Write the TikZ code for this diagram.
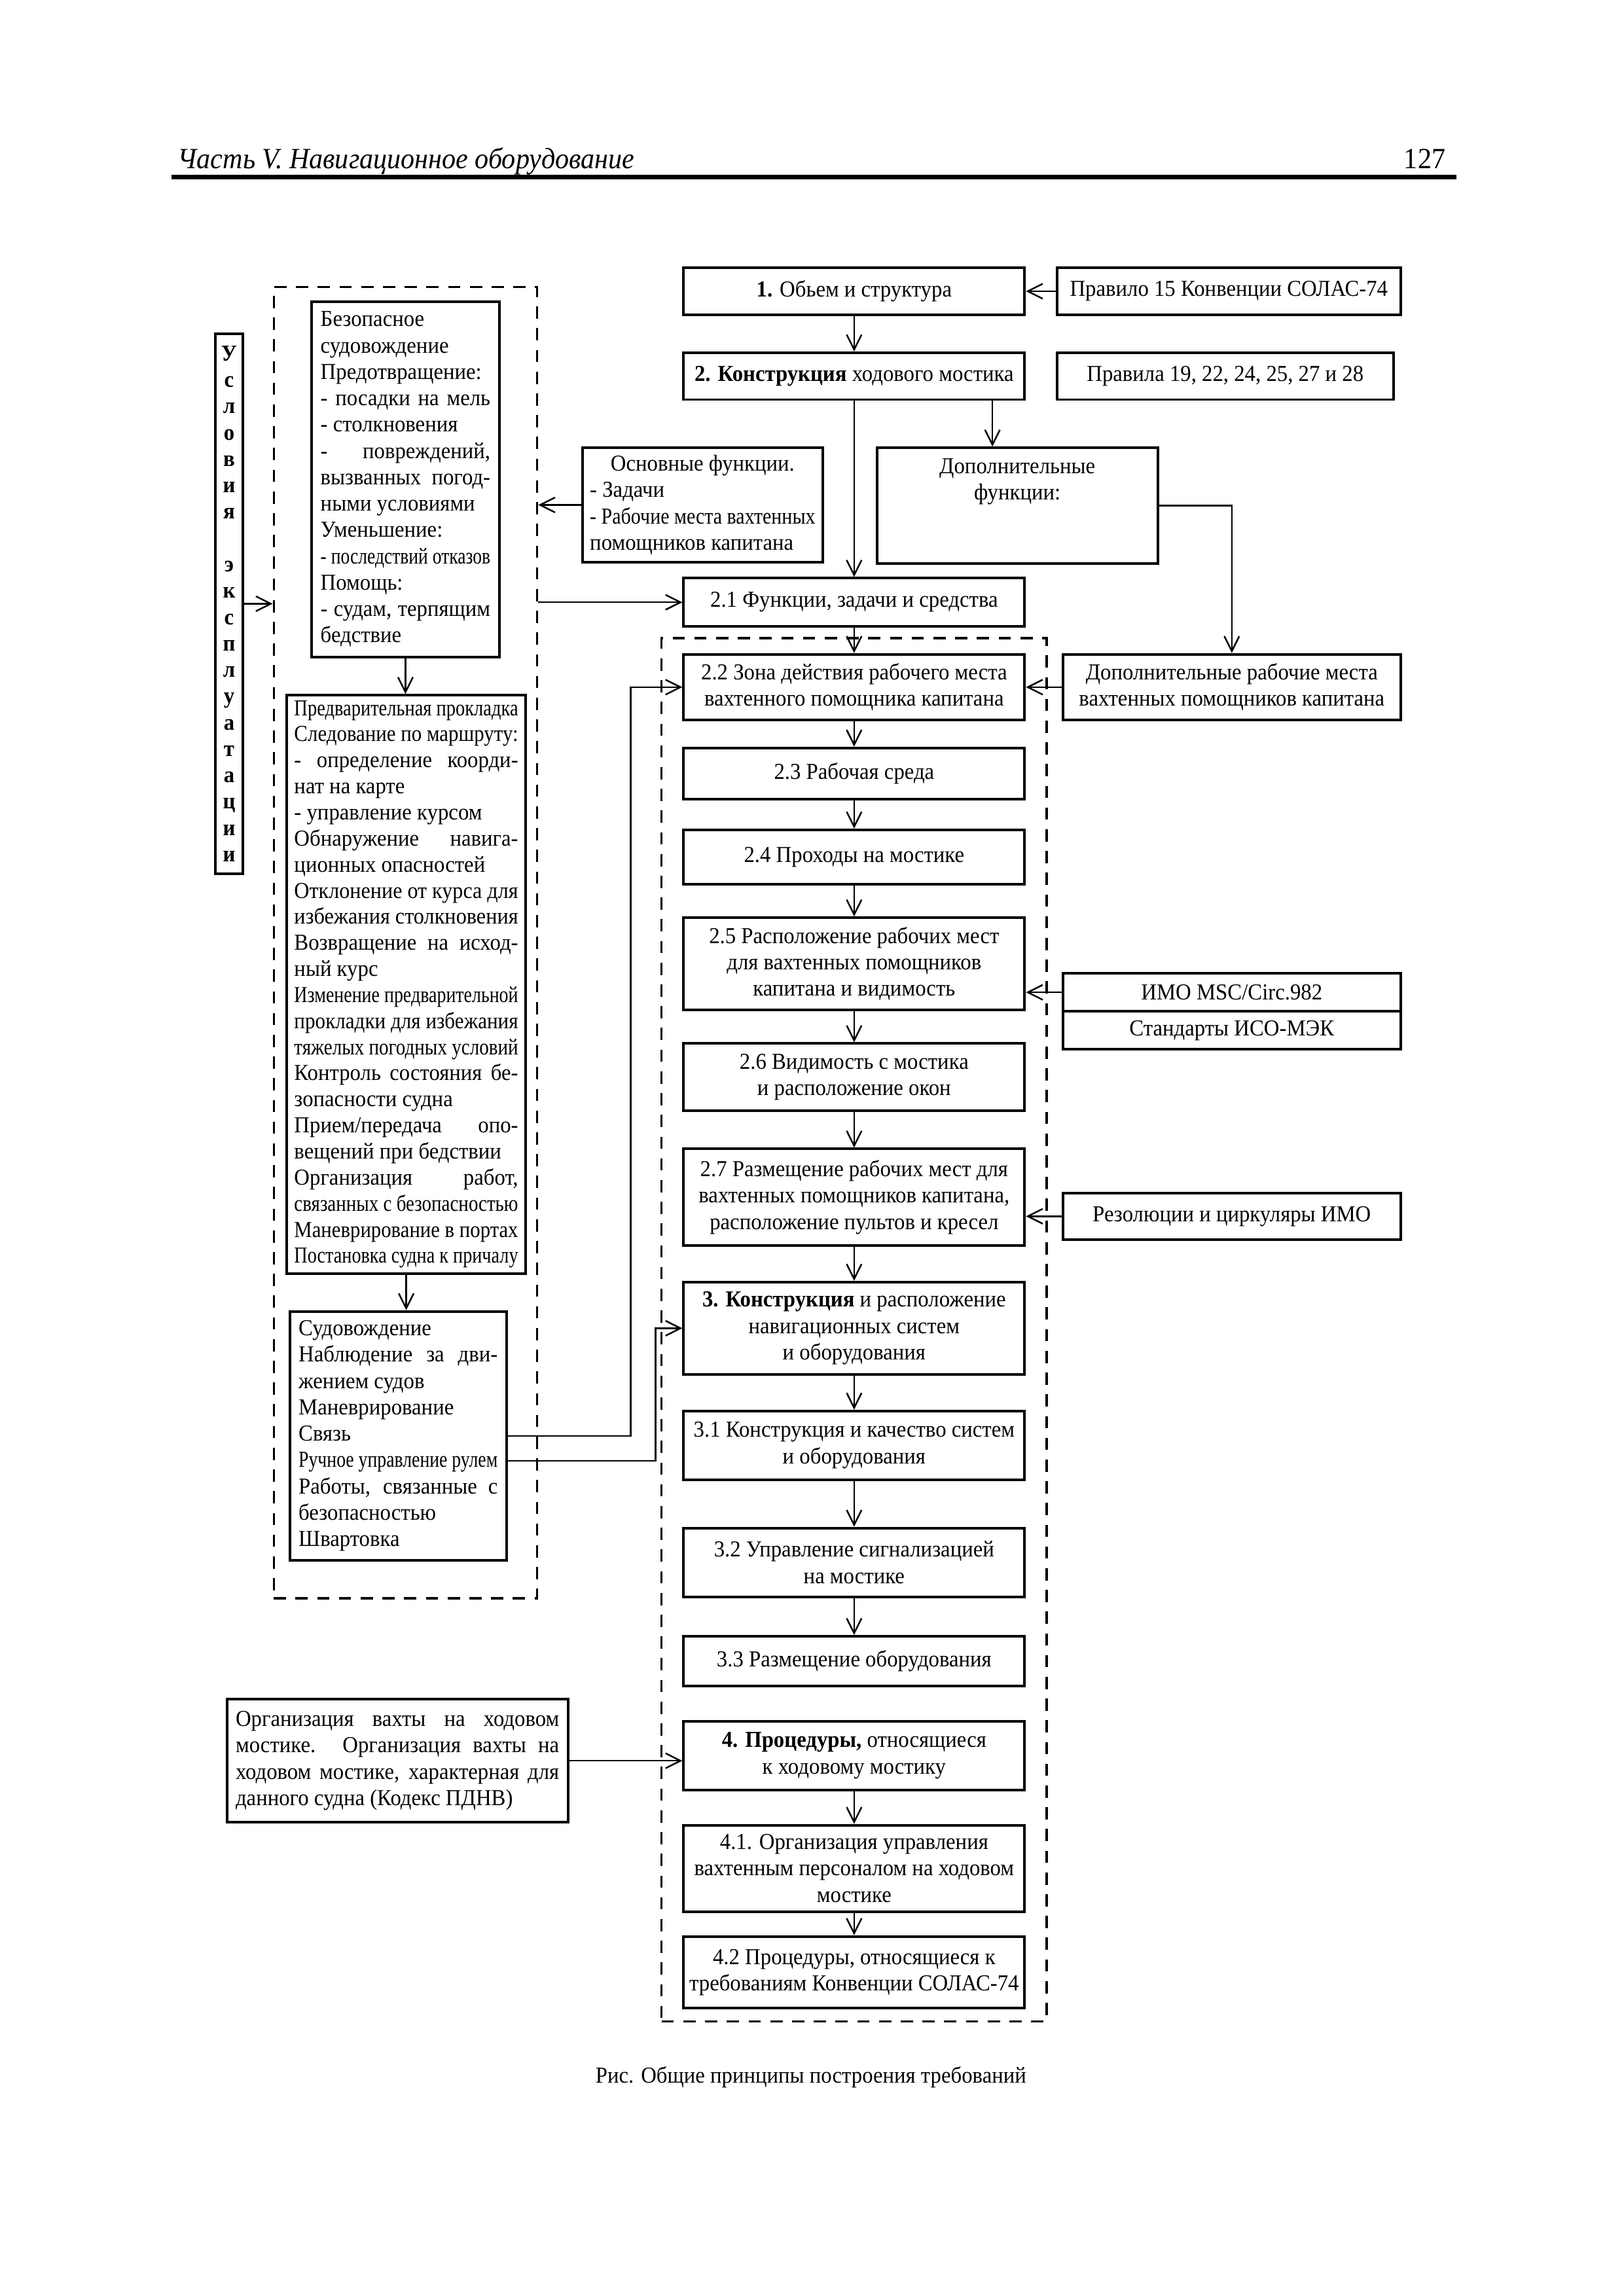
\documentclass[tikz,border=0pt]{standalone}
\usepackage{fontspec}
\setmainfont[FakeStretch=0.94]{Liberation Serif}
\usepackage{graphicx}
\usetikzlibrary{arrows.meta,calc}
\setlength\parindent{0pt}
\newlength\pxu \setlength\pxu{0.189366mm}
\newsavebox\fitbx
\newcommand\fitln[2]{{\spaceskip=0pt\xspaceskip=0pt\sbox\fitbx{#2}\ifdim\wd\fitbx>\hsize\resizebox{\hsize}{\height}{#2}\else\makebox[\hsize][#1]{#2}\fi}}
\newcommand\J[1]{\fitln{s}{#1}}
\newcommand\Lf[1]{\fitln{l}{#1}}
\newcommand\Cn[1]{\fitln{c}{#1}}
\begin{document}
\begin{tikzpicture}[x=0.189366mm,y=-0.189366mm,
  every node/.style={font=\fontsize{8.4}{9.7}\selectfont},
  bb/.style args={#1/#2/#3/#4}{minimum width={(#3-#1)*0.189366mm}, minimum height={(#4-#2)*0.189366mm}, at={({(#1+#3)/2},{(#2+#4)/2})}},
  bx/.style={draw, line width=0.95pt, inner sep=0pt, align=center},
  dz/.style={draw, line width=0.8pt, dash pattern=on 4.5pt off 3.5pt, inner sep=0pt},
  arr/.style={line width=0.6pt, -{Straight Barb[length=5.5pt,width=5.5pt]}}]
\useasboundingbox (0,0) rectangle (1109,1568.7);
% header
\node[anchor=base west, font=\fontsize{10.8}{12}\selectfont\itshape] (hdr) at (115,115) {Часть V. Навигационное оборудование};
\node[anchor=base east, font=\fontsize{10.8}{12}\selectfont] (pg) at (994,115) {127};
\draw[line width=1.5pt] (117,121) -- (995,121);
% dashed zones
\node[dz, bb=187/196/367/1092] (lz) {};
\node[dz, bb=452/436/715/1381] (rz) {};
% left column
\node[bx, bb=147/228/166/597, font=\bfseries\fontsize{8.4}{9.7}\selectfont] (usl) {У\\с\\л\\о\\в\\и\\я\\~\\э\\к\\с\\п\\л\\у\\а\\т\\а\\ц\\и\\и};
\node[bx, bb=213/206/341/449, text width=116\pxu, align=left] (bez) {%
\Lf{Безопасное}\\
\Lf{судовождение}\\
\Lf{Предотвращение:}\\
\J{- посадки на мель}\\
\Lf{- столкновения}\\
\J{- повреждений,}\\
\J{вызванных погод-}\\
\Lf{ными условиями}\\
\Lf{Уменьшение:}\\
\J{- последствий отказов}\\
\Lf{Помощь:}\\
\J{- судам, терпящим}\\
\Lf{бедствие}};
\node[bx, bb=196/475/359/870, text width=153\pxu, align=left, font=\fontsize{8.4}{9.6}\selectfont] (pred) {%
\J{Предварительная прокладка}\\
\J{Следование по маршруту:}\\
\J{- определение коорди-}\\
\Lf{нат на карте}\\
\Lf{- управление курсом}\\
\J{Обнаружение навига-}\\
\Lf{ционных опасностей}\\
\J{Отклонение от курса для}\\
\J{избежания столкновения}\\
\J{Возвращение на исход-}\\
\Lf{ный курс}\\
\J{Изменение предварительной}\\
\J{прокладки для избежания}\\
\J{тяжелых погодных условий}\\
\J{Контроль состояния бе-}\\
\Lf{зопасности судна}\\
\J{Прием/передача опо-}\\
\Lf{вещений при бедствии}\\
\J{Организация работ,}\\
\J{связанных с безопасностью}\\
\J{Маневрирование в портах}\\
\J{Постановка судна к причалу}};
\node[bx, bb=198/896/346/1066, text width=136\pxu, align=left] (sud) {%
\Lf{Судовождение}\\
\J{Наблюдение за дви-}\\
\Lf{жением судов}\\
\Lf{Маневрирование}\\
\Lf{Связь}\\
\J{Ручное управление рулем}\\
\J{Работы, связанные с}\\
\Lf{безопасностью}\\
\Lf{Швартовка}};
\node[bx, bb=398/306/562/384, text width=154\pxu, align=left] (osn) {%
\Cn{Основные функции.}\\
\Lf{- Задачи}\\
\J{- Рабочие места вахтенных}\\
\Lf{помощников капитана}};
\node[bx, bb=155/1161/388/1245, text width=221\pxu, align=left] (org) {%
\J{Организация вахты на ходовом}\\
\J{мостике. Организация вахты на}\\
\J{ходовом мостике, характерная для}\\
\Lf{данного судна (Кодекс ПДНВ)}};
% main column
\node[bx, bb=467/183/700/215] (b1) {\textbf{1.} Обьем и структура};
\node[bx, bb=722/183/957/215] (pr15) {Правило 15 Конвенции СОЛАС-74};
\node[bx, bb=467/241/700/273] (b2) {\textbf{2. Конструкция} ходового мостика};
\node[bx, bb=722/241/952/273] (pr19) {Правила 19, 22, 24, 25, 27 и 28};
\node[bx, bb=599/306/791/385] (dopf) {Дополнительные\\функции:\\\phantom{x}\\\phantom{x}};
\node[bx, bb=467/395/700/428] (b21) {2.1 Функции, задачи и средства};
\node[bx, bb=467/447/700/492] (b22) {2.2 Зона действия рабочего места\\вахтенного помощника капитана};
\node[bx, bb=726/447/957/492] (dopr) {Дополнительные рабочие места\\вахтенных помощников капитана};
\node[bx, bb=467/511/700/546] (b23) {2.3 Рабочая среда};
\node[bx, bb=467/567/700/604] (b24) {2.4 Проходы на мостике};
\node[bx, bb=467/627/700/690] (b25) {2.5 Расположение рабочих мест\\для вахтенных помощников\\капитана и видимость};
\node[bx, bb=726/665/957/691] (imo1) {ИМО MSC/Circ.982};
\node[bx, bb=726/691/957/717] (imo2) {Стандарты ИСО-МЭК};
\node[bx, bb=467/713/700/759] (b26) {2.6 Видимость с мостика\\и расположение окон};
\node[bx, bb=467/785/700/851] (b27) {2.7 Размещение рабочих мест для\\вахтенных помощников капитана,\\расположение пультов и кресел};
\node[bx, bb=726/815/957/847] (rez) {Резолюции и циркуляры ИМО};
\node[bx, bb=467/876/700/939] (b3) {\textbf{3. Конструкция} и расположение\\навигационных систем\\и оборудования};
\node[bx, bb=467/964/700/1011] (b31) {3.1 Конструкция и качество систем\\и оборудования};
\node[bx, bb=467/1044/700/1091] (b32) {3.2 Управление сигнализацией\\на мостике};
\node[bx, bb=467/1118/700/1152] (b33) {3.3 Размещение оборудования};
\node[bx, bb=467/1176/700/1223] (b4) {\textbf{4. Процедуры,} относящиеся\\к ходовому мостику};
\node[bx, bb=467/1247/700/1306] (b41) {4.1. Организация управления\\вахтенным персоналом на ходовом\\мостике};
\node[bx, bb=467/1323/700/1372] (b42) {4.2 Процедуры, относящиеся к\\требованиям Конвенции СОЛАС-74};
% caption
\node (cap) at (554,1419) {Рис. Общие принципы построения требований};
% connectors
\draw[arr] (pr15) -- (b1);
\draw[arr] (b1) -- (b2);
\draw[arr] (b2.south) -- (b21.north);
\coordinate (d0) at ($(b2.south)+(94.5,0)$);
\draw[arr] (d0) -- (d0 |- dopf.north);
\draw[arr] (dopf.east) -| (dopr.north);
\draw[arr] (dopr) -- (b22);
\draw[arr] (osn.west) -- (osn.west -| lz.east);
\draw[arr] (lz.east |- b21.west) -- (b21.west);
\draw[arr] (usl.east) -- (usl.east -| lz.west);
\draw[arr] (bez.south) -- (bez.south |- pred.north);
\draw[arr] (pred.south) -- (pred.south |- sud.north);
\draw[arr] (sud.east) -- ++(84,0) |- (b22.west);
\coordinate (s1) at ($(sud.east)+(0,17)$);
\draw[arr] (s1) -- ++(101,0) |- (b3.west);
\foreach \a/\b in {b21/b22,b22/b23,b23/b24,b24/b25,b25/b26,b26/b27,b27/b3,b3/b31,b31/b32,b32/b33,b4/b41,b41/b42}
  \draw[arr] (\a) -- (\b);
\draw[arr] (imo1.west) -- (imo1.west -| b25.east);
\draw[arr] (rez.west) -- (rez.west -| b27.east);
\draw[arr] (org.east) -- (org.east -| b4.west);
\end{tikzpicture}
\end{document}
